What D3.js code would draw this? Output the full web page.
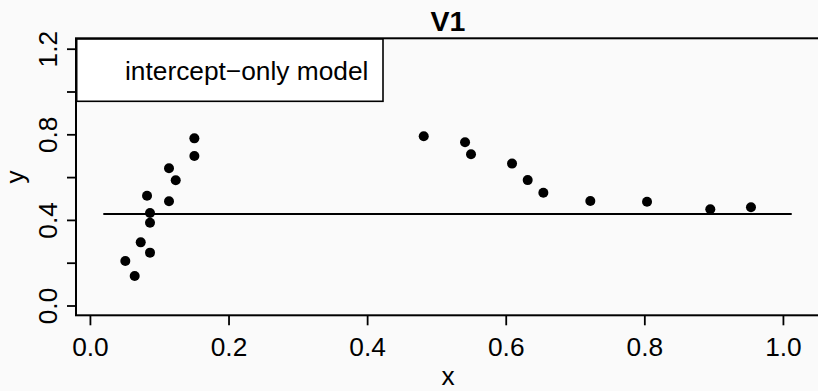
<!DOCTYPE html>
<html>
<head>
<meta charset="utf-8">
<script src="https://cdn.jsdelivr.net/npm/d3@7"></script>
<style>
  html, body { margin: 0; padding: 0; background: #fafafa; }
  svg { display: block; font-family: "Liberation Sans", Arial, Helvetica, sans-serif; }
</style>
</head>
<body>
<svg id="chart" width="818" height="391"></svg>
<script>
// ---- data ----
const xs = [0.1507, 0.1507, 0.1141, 0.1238, 0.0824, 0.1141, 0.0867, 0.0867, 0.0733, 0.0867, 0.0511, 0.0646,
            0.4817, 0.5413, 0.5499, 0.6091, 0.6317, 0.6543, 0.7221, 0.8039, 0.8952, 0.9539];
const ys = [0.781, 0.699, 0.641, 0.585, 0.513, 0.487, 0.432, 0.387, 0.295, 0.247, 0.208, 0.138,
            0.791, 0.763, 0.707, 0.663, 0.586, 0.527, 0.488, 0.485, 0.450, 0.459];
const fitX = [0.0193, 1.0127];
const fitY = [0.4276, 0.4276];
const xTicks = [0, 0.2, 0.4, 0.6, 0.8, 1.0];
const xTickLabels = ["0.0", "0.2", "0.4", "0.6", "0.8", "1.0"];
const yTicks = [0, 0.2, 0.4, 0.6, 0.8, 1.0, 1.2];
const yTickLabels = ["0.0", "", "0.4", "", "0.8", "", "1.2"];
const title = "V1";
const xLabel = "x";
const yLabel = "y";
const legendText = "intercept\u2212only model";

// ---- layout ----
const L = 76, R = 820, T = 38.3, B = 315.3;
const FS = 26.3;
const x = d3.scaleLinear().domain([-0.0201, 1.0535]).range([L, R]);
const y = d3.scaleLinear().domain([-0.0458, 1.2486]).range([B, T]);

const svg = d3.select("#chart");
svg.append("rect").attr("width", 818).attr("height", 391).attr("fill", "#fafafa");

// x axis ticks
const xAxis = d3.axisBottom(x).tickValues(xTicks).tickSize(10).tickFormat((d, i) => xTickLabels[i]);
const gx = svg.append("g").attr("transform", `translate(0,${B})`).call(xAxis);
gx.select(".domain").remove();
gx.selectAll(".tick line").attr("stroke", "#000").attr("stroke-width", 1.8);
gx.selectAll(".tick text").attr("font-size", FS).attr("fill", "#000").attr("dy", null).attr("y", 40.5);

// y axis ticks
const yAxis = d3.axisLeft(y).tickValues(yTicks).tickSize(9).tickFormat((d, i) => yTickLabels[i]);
const gy = svg.append("g").attr("transform", `translate(${L},0)`).call(yAxis);
gy.select(".domain").remove();
gy.selectAll(".tick line").attr("stroke", "#000").attr("stroke-width", 1.8);
gy.selectAll(".tick text")
  .attr("font-size", FS).attr("fill", "#000")
  .attr("x", null).attr("dy", null).attr("y", null)
  .attr("text-anchor", "middle")
  .attr("transform", "translate(-19,0) rotate(-90)");

// box
svg.append("rect").attr("x", L).attr("y", T).attr("width", R - L).attr("height", B - T)
  .attr("fill", "none").attr("stroke", "#000").attr("stroke-width", 2);

// fitted line
svg.append("path")
  .datum(fitX.map((d, i) => [d, fitY[i]]))
  .attr("d", d3.line().x(d => x(d[0])).y(d => y(d[1])))
  .attr("stroke", "#000").attr("stroke-width", 2).attr("fill", "none");

// points
svg.append("g").selectAll("circle").data(xs.map((d, i) => [d, ys[i]])).join("circle")
  .attr("cx", d => x(d[0])).attr("cy", d => y(d[1])).attr("r", 5).attr("fill", "#000");

// legend
svg.append("rect").attr("x", L + 0.7).attr("y", T + 0.7).attr("width", 383 - L - 0.7).attr("height", 101.3 - T - 0.7)
  .attr("fill", "#fff").attr("stroke", "#000").attr("stroke-width", 1.6);
svg.append("text").attr("x", 125).attr("y", 80).attr("font-size", FS).attr("fill", "#000").text(legendText);

// title and labels
svg.append("text").attr("x", (L + R) / 2).attr("y", 30.5).attr("text-anchor", "middle")
  .attr("font-size", 28.5).attr("font-weight", "bold").attr("fill", "#000").text(title);
svg.append("text").attr("x", (L + R) / 2).attr("y", 385).attr("text-anchor", "middle")
  .attr("font-size", FS).attr("fill", "#000").text(xLabel);
svg.append("text").attr("transform", `translate(24,${(T + B) / 2}) rotate(-90)`).attr("text-anchor", "middle")
  .attr("font-size", FS).attr("fill", "#000").text(yLabel);
</script>
</body>
</html>
